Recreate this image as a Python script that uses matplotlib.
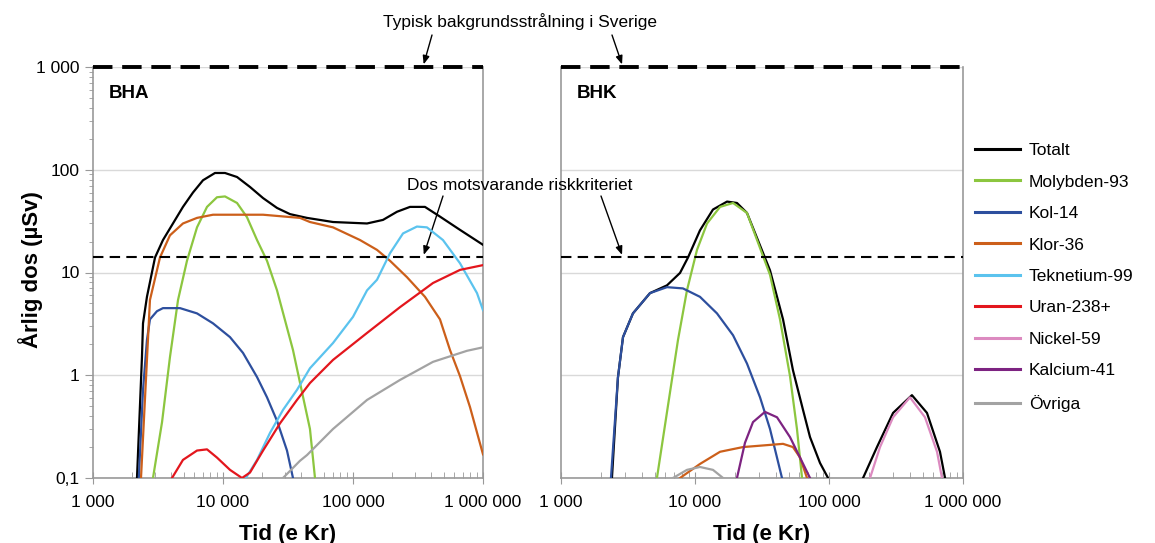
import numpy as np
import matplotlib.pyplot as plt
from matplotlib.ticker import FixedLocator, LogLocator, NullFormatter, NullLocator

plt.rcParams['font.family'] = ['Liberation Sans', 'DejaVu Sans']

# ---------------------------------------------------------------------
# Data – tid (år e Kr) och årlig dos (µSv)
# ---------------------------------------------------------------------
# BHA
bha_totalt_t = [2180, 2380, 2425, 2600, 3000, 3453, 4122, 4920, 5874, 7017, 8675, 10360, 12820,
                16130, 20330, 26030, 32750, 44240, 70200, 128200, 170100, 217900, 274400,
                357700, 466700, 665300, 1000000]
bha_totalt_d = [0.1, 1.5, 3.2, 5.8, 14, 20.7, 30, 43.5, 60, 79, 93, 93, 85,
                68, 53, 42.5, 37, 34, 31, 30, 32.5, 39, 43.5,
                43.5, 35, 26, 18.6]

bha_mo93_t = [2894, 3397, 3908, 4508, 5283, 6310, 7533, 8990, 10360, 12820, 15300, 18270,
              21800, 26030, 34540, 41230, 46660, 51000]
bha_mo93_d = [0.1, 0.35, 1.5, 5.4, 13, 27.5, 43.5, 54, 55, 47.5, 34.5, 20.7,
              13, 6.7, 1.76, 0.62, 0.3, 0.1]

bha_c14_t = [2250, 2425, 2600, 2742, 3104, 3453, 4670, 6310, 8377, 11320, 14250, 18270,
             21800, 26030, 31060, 34540]
bha_c14_d = [0.1, 0.72, 2.2, 3.5, 4.2, 4.5, 4.5, 4.0, 3.2, 2.35, 1.65, 0.96,
             0.61, 0.36, 0.185, 0.1]

bha_cl36_t = [2340, 2742, 3275, 3908, 4920, 6310, 8377, 20330, 39080, 46660, 70200, 113200,
              153000, 192600, 260300, 357700, 466700, 557300, 665300, 794300, 1000000]
bha_cl36_d = [0.1, 5.4, 14, 23, 30, 34, 36.5, 36.5, 34, 31, 27.5, 20.7,
              16.6, 13, 9, 5.8, 3.5, 1.76, 0.98, 0.49, 0.17]

bha_tc99_t = [15000, 18270, 23000, 28950, 37070, 46660, 70200, 100000, 128200, 153000, 192600,
              242500, 310300, 370500, 492000, 665300, 899200, 1000000]
bha_tc99_d = [0.1, 0.15, 0.275, 0.46, 0.72, 1.17, 2.06, 3.7, 6.7, 8.5, 15.4,
              24, 28, 27.5, 20.7, 12.3, 6.3, 4.3]

bha_u238_t = [4053, 4920, 6310, 7533, 8990, 11320, 14000, 16130, 20330, 27430, 37070, 46660,
              70200, 128200, 229900, 345300, 412300, 665300, 1000000]
bha_u238_d = [0.1, 0.15, 0.185, 0.19, 0.158, 0.12, 0.1, 0.113, 0.185, 0.34, 0.575, 0.84,
              1.41, 2.58, 4.6, 6.7, 7.9, 10.6, 11.8]

bha_ovriga_t = [28950, 39080, 44240, 70200, 128200, 229900, 412300, 753600, 1000000]
bha_ovriga_d = [0.1, 0.147, 0.167, 0.3, 0.575, 0.9, 1.35, 1.73, 1.87]

# BHK
bhk_totalt_t = [2400, 2660, 2902, 3443, 4615, 6180, 7729, 8868, 10890, 13620, 17340, 20570,
                24430, 36280, 45380, 53830, 63990, 72170, 85700, 98400, np.nan,
                179500, 228000, 300700, 415800, 538500, 673400, 734600]
bhk_totalt_d = [0.1, 0.95, 2.35, 4.0, 6.3, 7.5, 9.9, 14, 25.7, 41, 49, 47.5,
                38, 10.5, 3.5, 1.12, 0.46, 0.25, 0.14, 0.1, np.nan,
                0.1, 0.2, 0.43, 0.64, 0.43, 0.18, 0.1]

bhk_mo93_t = [5200, 7463, 8710, 10350, 12300, 15380, 19230, 24430, 36280, 43080, 51170,
              57670, 62920]
bhk_mo93_d = [0.1, 2.2, 6.7, 16.6, 30, 43.5, 47.5, 38, 9.5, 3.5, 0.98, 0.3, 0.1]

bhk_c14_t = [2360, 2660, 2902, 3443, 4615, 6180, 8130, 10890, 14590, 19230, 24430, 30570,
             36280, 44590]
bhk_c14_d = [0.1, 0.95, 2.35, 4.0, 6.3, 7.2, 7.0, 5.8, 4.0, 2.45, 1.3, 0.61, 0.3, 0.1]

bhk_cl36_t = [7729, 10890, 15380, 22790, 45380, 53830, 60810, 68550]
bhk_cl36_d = [0.1, 0.137, 0.18, 0.2, 0.215, 0.2, 0.158, 0.1]

bhk_ni59_t = [202400, 240300, 300700, 402000, 520200, 639900, 697100]
bhk_ni59_d = [0.1, 0.2, 0.39, 0.61, 0.39, 0.18, 0.1]

bhk_ca41_t = [20570, 23600, 27090, 33270, 40920, 51170, 60810, 72170]
bhk_ca41_d = [0.1, 0.22, 0.35, 0.44, 0.39, 0.25, 0.158, 0.1]

bhk_ovriga_t = [6850, 8710, 10890, 13620, 16200]
bhk_ovriga_d = [0.1, 0.12, 0.128, 0.12, 0.1]

bakgrund = 1000      # typisk bakgrundsstrålning
riskdos = 14         # dos motsvarande riskkriteriet

nuklider = ['Totalt', 'Molybden-93', 'Kol-14', 'Klor-36', 'Teknetium-99',
            'Uran-238+', 'Nickel-59', 'Kalcium-41', 'Övriga']
farger = ['#000000', '#8cc63f', '#2d4f9e', '#cc5f1a', '#5bc3ee',
          '#e3161d', '#dc8ac0', '#7d2381', '#a3a3a3']

bha = {'Totalt': (bha_totalt_t, bha_totalt_d), 'Molybden-93': (bha_mo93_t, bha_mo93_d),
       'Kol-14': (bha_c14_t, bha_c14_d), 'Klor-36': (bha_cl36_t, bha_cl36_d),
       'Teknetium-99': (bha_tc99_t, bha_tc99_d), 'Uran-238+': (bha_u238_t, bha_u238_d),
       'Övriga': (bha_ovriga_t, bha_ovriga_d)}
bhk = {'Totalt': (bhk_totalt_t, bhk_totalt_d), 'Molybden-93': (bhk_mo93_t, bhk_mo93_d),
       'Kol-14': (bhk_c14_t, bhk_c14_d), 'Klor-36': (bhk_cl36_t, bhk_cl36_d),
       'Nickel-59': (bhk_ni59_t, bhk_ni59_d), 'Kalcium-41': (bhk_ca41_t, bhk_ca41_d),
       'Övriga': (bhk_ovriga_t, bhk_ovriga_d)}

# ---------------------------------------------------------------------
fig = plt.figure(figsize=(11.55, 5.43), dpi=100)
ax1 = fig.add_axes([93 / 1155, 65 / 543, 390 / 1155, 411 / 543])
ax2 = fig.add_axes([561 / 1155, 65 / 543, 402 / 1155, 411 / 543])

xticks = [1e3, 1e4, 1e5, 1e6]
xlabels = ['1 000', '10 000', '100 000', '1 000 000']
yticks = [0.1, 1, 10, 100, 1000]
ylabels = ['0,1', '1', '10', '100', '1 000']

for ax, data, namn in [(ax1, bha, 'BHA'), (ax2, bhk, 'BHK')]:
    ax.set_xscale('log')
    ax.set_yscale('log')
    ax.set_xlim(1e3, 1e6)
    ax.set_ylim(0.1, 1000)

    for i, nuk in enumerate(nuklider):
        if nuk in data:
            t, d = data[nuk]
            ax.plot(t, d, color=farger[i], lw=1.6, zorder=3 + i * 0.1,
                    solid_joinstyle='round')

    ax.axhline(bakgrund, color='black', lw=2.8, dashes=(5, 2.5), zorder=6, clip_on=False)
    ax.axhline(riskdos, color='black', lw=1.5, dashes=(5, 3), zorder=6)

    ax.yaxis.grid(True, which='major', color='#d9d9d9', lw=1)
    ax.set_axisbelow(True)
    for s in ['left', 'right', 'bottom']:
        ax.spines[s].set_color('#999999')
        ax.spines[s].set_linewidth(1.2)
    ax.spines['top'].set_visible(False)

    ax.xaxis.set_major_locator(FixedLocator(xticks))
    ax.set_xticklabels(xlabels, fontsize=12.5)
    ax.xaxis.set_minor_locator(LogLocator(base=10, subs=np.arange(2, 10)))
    ax.xaxis.set_minor_formatter(NullFormatter())
    ax.tick_params(axis='x', which='major', direction='inout', length=8, color='#999999', pad=8)
    ax.tick_params(axis='x', which='minor', direction='in', length=4, color='#999999')

    ax.set_xlabel('Tid (e Kr)', fontsize=16, fontweight='bold', labelpad=10)
    ax.text(0.04, 0.955, namn, transform=ax.transAxes, fontsize=13.5,
            fontweight='bold', va='top', ha='left')

ax1.yaxis.set_major_locator(FixedLocator(yticks))
ax1.set_yticklabels(ylabels, fontsize=12.5)
ax1.yaxis.set_minor_locator(LogLocator(base=10, subs=np.arange(2, 10)))
ax1.yaxis.set_minor_formatter(NullFormatter())
ax1.tick_params(axis='y', which='major', direction='out', length=6, color='#999999')
ax1.tick_params(axis='y', which='minor', direction='out', length=3, color='#999999')

# y-axelns rubrik placeras fritt (närmare axeln än tick-etiketten "1 000")
fig.text(31 / 1155, 1 - 270 / 543, 'Årlig dos (µSv)', rotation=90, ha='center',
         va='center', fontsize=16, fontweight='bold')

ax2.yaxis.set_major_locator(FixedLocator(yticks))
ax2.yaxis.set_minor_locator(NullLocator())
ax2.tick_params(axis='y', which='major', length=0, labelleft=False)

# Annotations
fig.text(520 / 1155, 1 - 22 / 543, 'Typisk bakgrundsstrålning i Sverige',
         ha='center', va='center', fontsize=12.5)
fig.text(520 / 1155, 1 - 185 / 543, 'Dos motsvarande riskkriteriet',
         ha='center', va='center', fontsize=12.5)

pil = dict(arrowstyle='-|>,head_length=0.5,head_width=0.2', color='black', lw=1, shrinkA=0, shrinkB=2)
ax1.annotate('', xy=(345000, bakgrund), xytext=(432, 543 - 35),
             textcoords='figure pixels', arrowprops=pil, annotation_clip=False)
ax2.annotate('', xy=(2900, bakgrund), xytext=(612, 543 - 35),
             textcoords='figure pixels', arrowprops=pil, annotation_clip=False)
ax1.annotate('', xy=(345000, riskdos), xytext=(443, 543 - 196),
             textcoords='figure pixels', arrowprops=pil, annotation_clip=False)
ax2.annotate('', xy=(2900, riskdos), xytext=(601, 543 - 196),
             textcoords='figure pixels', arrowprops=pil, annotation_clip=False)

# Legend
handles = [plt.Line2D([], [], color=c, lw=2.2) for c in farger]
fig.legend(handles, nuklider, loc='upper left', bbox_to_anchor=(968 / 1155, 1 - 136 / 543),
           frameon=False, fontsize=12.5, handlelength=2.6, handletextpad=0.5,
           labelspacing=0.94, borderaxespad=0)

fig.savefig('out.png', dpi=100)
